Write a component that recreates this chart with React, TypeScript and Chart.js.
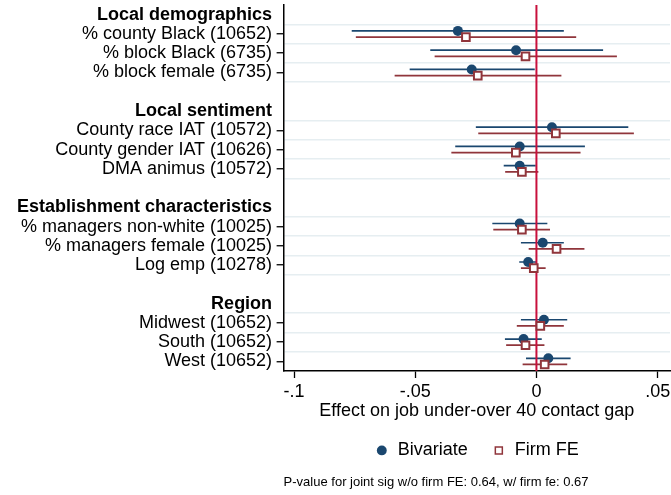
import { useEffect, useRef } from 'react';
import { Chart, registerables } from 'chart.js';

Chart.register(...registerables);

const FONT = '"Liberation Sans", Arial, Helvetica, sans-serif';

const rowLabels = [
  'Local demographics',
  '% county Black (10652)',
  '% block Black (6735)',
  '% block female (6735)',
  '',
  'Local sentiment',
  'County race IAT (10572)',
  'County gender IAT (10626)',
  'DMA animus (10572)',
  '',
  'Establishment characteristics',
  '% managers non-white (10025)',
  '% managers female (10025)',
  'Log emp (10278)',
  '',
  'Region',
  'Midwest (10652)',
  'South (10652)',
  'West (10652)',
];
const headerRows = [0, 5, 10, 15];
const itemRows = [1, 2, 3, 6, 7, 8, 11, 12, 13, 16, 17, 18];
const gridRows = [0.5, 1.5, 2.5, 3.5, 5.5, 6.5, 7.5, 8.5, 10.5, 11.5, 12.5, 13.5, 15.5, 16.5, 17.5];

const bivEst = [-0.0324, -0.0084, -0.0267, 0.0064, -0.0069, -0.0069, -0.0069, 0.0026, -0.0034, 0.0031, -0.0053, 0.0049];
const bivLo = [-0.0762, -0.0438, -0.0523, -0.025, -0.0335, -0.0135, -0.0182, -0.0064, -0.0071, -0.0064, -0.013, -0.0043];
const bivHi = [0.0113, 0.0275, -0.0007, 0.0379, 0.02, -0.0003, 0.0045, 0.0113, 0.0001, 0.0127, 0.0022, 0.0141];
const feEst = [-0.0291, -0.0045, -0.0242, 0.008, -0.0085, -0.006, -0.006, 0.0083, -0.0011, 0.0016, -0.0045, 0.0034];
const feLo = [-0.0745, -0.042, -0.0585, -0.024, -0.0351, -0.0129, -0.0178, -0.0032, -0.0064, -0.0081, -0.0125, -0.0057];
const feHi = [0.0164, 0.0332, 0.0103, 0.0402, 0.0182, 0.0008, 0.0056, 0.0198, 0.0038, 0.0113, 0.0033, 0.0127];

const xTickValues = [-0.1, -0.05, 0, 0.05];
const xTickLabels = ['-.1', '-.05', '0', '.05'];
const xMin = -0.1043;
const xMax = 0.0551;
const yMin = -0.5;
const yMax = 18.5;
const seriesOffset = 0.16;

const NAVY = '#1a476f';
const MAROON = '#90353b';
const ZERO = '#c8103c';
const GRID = '#e6eef1';
const CLEAR = 'rgba(0,0,0,0)';

function ciData(lo: number[], hi: number[], shift: number) {
  const out: any[] = [];
  itemRows.forEach((r, i) => {
    out.push({ x: lo[i], y: r + shift });
    out.push({ x: hi[i], y: r + shift });
    out.push({ x: null, y: null });
  });
  return out;
}

export default function App() {
  const ref = useRef<HTMLCanvasElement | null>(null);

  useEffect(() => {
    if (!ref.current) return;
    const yTicks: number[] = [];
    for (let v = yMin; v <= yMax + 1e-9; v += 0.5) yTicks.push(v);

    const chart = new Chart(ref.current, {
      type: 'scatter',
      data: {
        datasets: [
          {
            label: 'Bivariate',
            data: itemRows.map((r, i) => ({ x: bivEst[i], y: r - seriesOffset })),
            pointStyle: 'circle',
            pointRadius: 5,
            backgroundColor: NAVY,
            borderColor: NAVY,
            borderWidth: 0,
            order: 1,
          },
          {
            label: 'Firm FE',
            data: itemRows.map((r, i) => ({ x: feEst[i], y: r + seriesOffset })),
            pointStyle: 'rect',
            pointRadius: 5.4,
            backgroundColor: '#ffffff',
            borderColor: MAROON,
            borderWidth: 2,
            order: 0,
          },
          {
            label: 'zero',
            data: [
              { x: 0, y: yMin },
              { x: 0, y: yMax },
            ],
            showLine: true,
            pointRadius: 0,
            borderColor: ZERO,
            borderWidth: 2,
            order: 2,
          },
          {
            label: 'ci-biv',
            data: ciData(bivLo, bivHi, -seriesOffset),
            showLine: true,
            spanGaps: false,
            pointRadius: 0,
            borderColor: NAVY,
            borderWidth: 1.7,
            order: 3,
          },
          {
            label: 'ci-fe',
            data: ciData(feLo, feHi, seriesOffset),
            showLine: true,
            spanGaps: false,
            pointRadius: 0,
            borderColor: MAROON,
            borderWidth: 1.7,
            order: 3,
          },
        ],
      },
      options: {
        animation: false,
        responsive: false,
        events: [],
        layout: { autoPadding: false, padding: { left: 12.5, right: 1, top: 4.4, bottom: 0 } },
        scales: {
          x: {
            type: 'linear',
            min: xMin,
            max: xMax,
            afterBuildTicks: (scale: any) => {
              scale.ticks = xTickValues.map((v) => ({ value: v }));
            },
            afterFit: (scale: any) => {
              scale.paddingRight = 0;
            },
            ticks: {
              autoSkip: false,
              padding: 3.8,
              color: '#000',
              font: { family: FONT, size: 18, lineHeight: 1.1 },
              callback: (value: any) => {
                const i = xTickValues.indexOf(Number(value));
                return i >= 0 ? xTickLabels[i] : '';
              },
            },
            grid: { drawOnChartArea: false, tickColor: '#000', tickLength: 7, tickWidth: 1.3 },
            border: { color: '#000', width: 1.5 },
            title: {
              display: true,
              text: 'Effect on job under-over 40 contact gap',
              color: '#000',
              font: { family: FONT, size: 18, lineHeight: 0.6 },
              padding: { top: 0, bottom: 1.2 },
            },
          },
          y: {
            type: 'linear',
            reverse: true,
            min: yMin,
            max: yMax,
            afterBuildTicks: (scale: any) => {
              scale.ticks = yTicks.map((v) => ({ value: v }));
            },
            ticks: {
              autoSkip: false,
              padding: 4.5,
              color: '#000',
              font: (ctx: any) => {
                const v = ctx.tick ? ctx.tick.value : 0;
                if (v === yMin || v === yMax) return { family: FONT, size: 1 };
                return { family: FONT, size: 18, weight: headerRows.includes(v) ? 'bold' : 'normal' };
              },
              callback: (value: any) => {
                const v = Number(value);
                return Number.isInteger(v) && v >= 0 && v < rowLabels.length ? rowLabels[v] : '';
              },
            },
            grid: {
              drawOnChartArea: true,
              lineWidth: 1.5,
              color: (ctx: any) => (ctx.tick && gridRows.includes(ctx.tick.value) ? GRID : CLEAR),
              tickColor: (ctx: any) => (ctx.tick && itemRows.includes(ctx.tick.value) ? '#000' : CLEAR),
              tickLength: 7,
              tickWidth: 1.3,
            },
            border: { color: '#000', width: 1.5 },
          },
        },
        plugins: {
          tooltip: { enabled: false },
          legend: {
            display: true,
            position: 'bottom',
            fullSize: false,
            labels: {
              usePointStyle: true,
              boxWidth: 14,
              boxHeight: 7,
              padding: 24,
              color: '#000',
              font: { family: FONT, size: 18 },
              generateLabels: () => [
                {
                  text: 'Bivariate',
                  fillStyle: NAVY,
                  strokeStyle: NAVY,
                  lineWidth: 0,
                  pointStyle: 'circle',
                  hidden: false,
                  datasetIndex: 0,
                  fontColor: '#000',
                },
                {
                  text: 'Firm FE',
                  fillStyle: '#ffffff',
                  strokeStyle: MAROON,
                  lineWidth: 1.5,
                  pointStyle: 'rect',
                  hidden: false,
                  datasetIndex: 1,
                  fontColor: '#000',
                },
              ],
            },
          },
          title: {
            display: true,
            position: 'bottom',
            align: 'start',
            fullSize: false,
            text: 'P-value for joint sig w/o firm FE: 0.64, w/ firm fe: 0.67',
            color: '#000',
            font: { family: FONT, size: 13, weight: 'normal' },
            padding: { top: 5.5, bottom: 4.5 },
          },
        },
      } as any,
    });
    return () => chart.destroy();
  }, []);

  return (
    <div style={{ position: 'fixed', left: 0, top: 0, width: 671, height: 495, background: '#fff' }}>
      <canvas ref={ref} width={671} height={495} style={{ display: 'block' }} />
    </div>
  );
}
